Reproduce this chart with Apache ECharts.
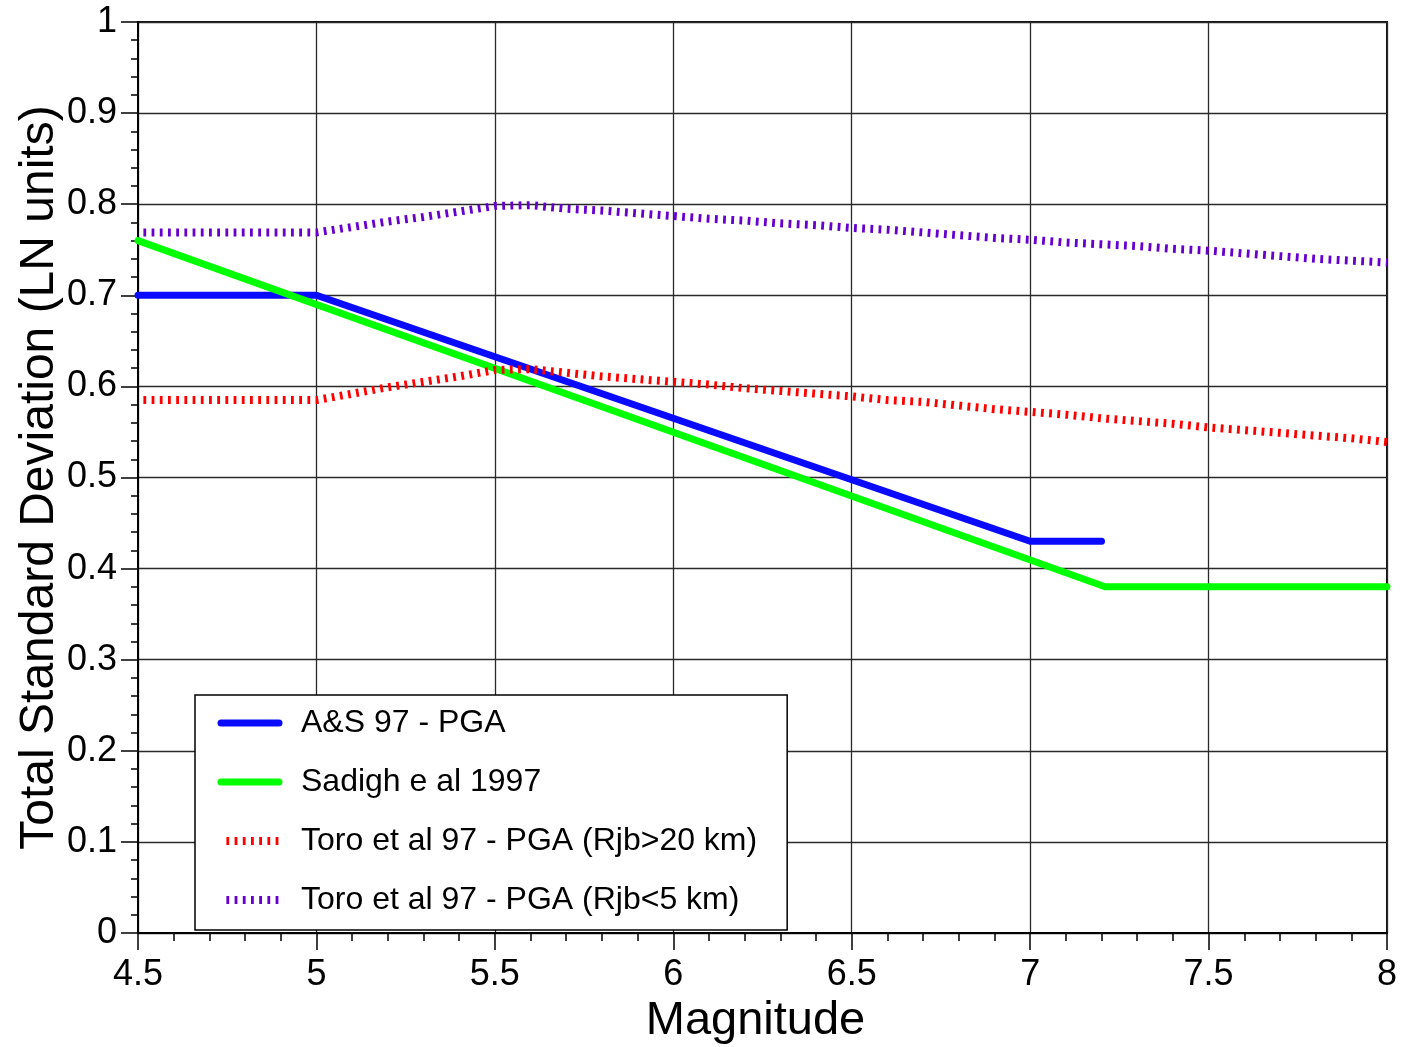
<!DOCTYPE html>
<html>
<head>
<meta charset="utf-8">
<script src="https://cdn.jsdelivr.net/npm/echarts@6/dist/echarts.min.js"></script>
<style>
html,body{margin:0;padding:0;background:#fff;}
#chart{width:1403px;height:1047px;}
</style>
</head>
<body>
<div id="chart"></div>
<script>
// ---- data ----
const seriesNames = [
  'A&S 97 - PGA',
  'Sadigh e al 1997',
  'Toro et al 97 - PGA (Rjb>20 km)',
  'Toro et al 97 - PGA (Rjb<5 km)'
];
const asMag = [4.5, 5.0, 7.0, 7.2];
const asSigma = [0.70, 0.70, 0.43, 0.43];
const sadighMag = [4.5, 7.21, 8.0];
const sadighSigma = [0.76, 0.38, 0.38];
const toroMag = [4.5, 4.6, 4.7, 4.8, 4.9, 5.0, 5.1, 5.2, 5.3, 5.4, 5.5, 5.6, 5.7, 5.8, 5.9, 6.0,
  6.1, 6.2, 6.3, 6.4, 6.5, 6.6, 6.7, 6.8, 6.9, 7.0, 7.1, 7.2, 7.3, 7.4, 7.5, 7.6, 7.7, 7.8, 7.9, 8.0];
const toroFar = [0.585, 0.585, 0.585, 0.585, 0.585, 0.585, 0.592, 0.599, 0.605, 0.611, 0.618, 0.619,
  0.615, 0.611, 0.608, 0.605, 0.602, 0.598, 0.595, 0.592, 0.589, 0.585, 0.583, 0.579, 0.575, 0.572,
  0.569, 0.565, 0.562, 0.559, 0.555, 0.552, 0.549, 0.546, 0.543, 0.539];
const toroNear = [0.769, 0.769, 0.769, 0.769, 0.769, 0.769, 0.775, 0.781, 0.786, 0.792, 0.798, 0.799,
  0.795, 0.793, 0.790, 0.787, 0.784, 0.782, 0.779, 0.777, 0.774, 0.772, 0.769, 0.766, 0.763, 0.761,
  0.758, 0.756, 0.754, 0.751, 0.749, 0.746, 0.743, 0.740, 0.738, 0.736];
const xTickLabels = ['4.5', '5', '5.5', '6', '6.5', '7', '7.5', '8'];
const yTickLabels = ['0', '0.1', '0.2', '0.3', '0.4', '0.5', '0.6', '0.7', '0.8', '0.9', '1'];

const zip = (a, b) => a.map((v, i) => [v, b[i]]);
const FONT = "'Liberation Sans', Arial, sans-serif";

const chart = echarts.init(document.getElementById('chart'));
chart.setOption({
  animation: false,
  backgroundColor: '#fff',
  textStyle: { fontFamily: FONT },
  grid: {
    left: 138, right: 16, top: 22, bottom: 114,
    containLabel: false, outerBoundsMode: 'none',
    show: true, borderColor: '#111', borderWidth: 2, backgroundColor: 'transparent'
  },
  xAxis: {
    type: 'value', min: 4.5, max: 8, interval: 0.5,
    name: 'Magnitude', nameLocation: 'middle', nameGap: 62,
    nameTextStyle: { fontSize: 47, color: '#000', fontFamily: FONT, padding: [0, 14, 0, 0] },
    axisLine: { show: true, onZero: false, lineStyle: { color: '#000', width: 2 } },
    axisTick: { show: true, inside: false, length: 17, lineStyle: { color: '#000', width: 1.5 } },
    minorTick: { show: true, splitNumber: 5, length: 8, lineStyle: { color: '#000', width: 1.5 } },
    splitLine: { show: true, lineStyle: { color: '#2a2a2a', width: 1.3 } },
    axisLabel: {
      fontSize: 36, color: '#000', margin: 24, fontFamily: FONT,
      formatter: v => xTickLabels[Math.round((v - 4.5) / 0.5)]
    }
  },
  yAxis: {
    type: 'value', min: 0, max: 1, interval: 0.1,
    name: 'Total Standard Deviation (LN units)', nameLocation: 'middle', nameGap: 74,
    nameMoveOverlap: false,
    nameTextStyle: { fontSize: 48, color: '#000', fontFamily: FONT },
    axisLine: { show: true, onZero: false, lineStyle: { color: '#000', width: 2 } },
    axisTick: { show: true, inside: false, length: 17, lineStyle: { color: '#000', width: 1.5 } },
    minorTick: { show: true, splitNumber: 5, length: 7, lineStyle: { color: '#000', width: 1.5 } },
    splitLine: { show: true, lineStyle: { color: '#2a2a2a', width: 1.3 } },
    axisLabel: {
      fontSize: 36, color: '#000', margin: 21, fontFamily: FONT,
      formatter: v => yTickLabels[Math.round(v * 10)]
    }
  },
  legend: {
    orient: 'vertical', left: 195, top: 695,
    data: seriesNames,
    selectedMode: false,
    backgroundColor: '#fff', borderColor: '#000', borderWidth: 1.5, borderRadius: 0,
    padding: [12, 30, 14, 22],
    itemWidth: 58, itemHeight: 30, itemGap: 27,
    itemStyle: { opacity: 0 },
    lineStyle: { width: 'inherit', type: 'inherit', cap: 'inherit', dashOffset: 'inherit' },
    textStyle: { fontSize: 32, color: '#000', fontFamily: FONT, padding: [0, 0, 0, 17], lineHeight: 30 }
  },
  series: [
    {
      name: seriesNames[0], type: 'line', data: zip(asMag, asSigma),
      symbol: 'none', showSymbol: false, z: 3,
      lineStyle: { color: '#0a0aff', width: 7, cap: 'round', join: 'round' },
      itemStyle: { color: '#0a0aff' }
    },
    {
      name: seriesNames[1], type: 'line', data: zip(sadighMag, sadighSigma),
      symbol: 'none', showSymbol: false, z: 3,
      lineStyle: { color: '#00ff00', width: 7, cap: 'round', join: 'round' },
      itemStyle: { color: '#00ff00' }
    },
    {
      name: seriesNames[2], type: 'line', data: zip(toroMag, toroFar),
      symbol: 'none', showSymbol: false, z: 3,
      lineStyle: { color: '#ff0000', width: 8, type: [2.8, 5.4], dashOffset: 2.8, cap: 'butt' },
      itemStyle: { color: '#ff0000' }
    },
    {
      name: seriesNames[3], type: 'line', data: zip(toroMag, toroNear),
      symbol: 'none', showSymbol: false, z: 3,
      lineStyle: { color: '#6600cc', width: 8, type: [2.8, 5.4], dashOffset: 2.8, cap: 'butt' },
      itemStyle: { color: '#6600cc' }
    }
  ]
});
</script>
</body>
</html>
